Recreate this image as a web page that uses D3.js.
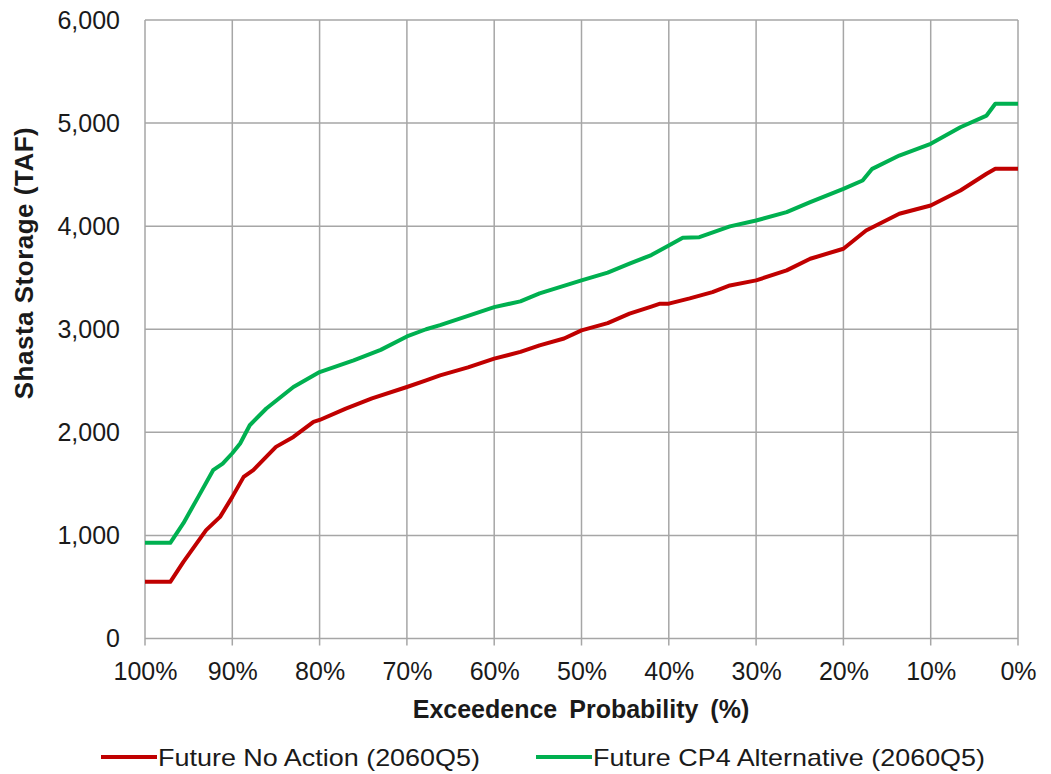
<!DOCTYPE html>
<html>
<head>
<meta charset="utf-8">
<script src="https://cdn.jsdelivr.net/npm/d3@7"></script>
<style>
  body { margin: 0; background: #fff; }
  text { font-family: "Liberation Sans", Arial, sans-serif; fill: #1a1a1a; }
</style>
</head>
<body>
<svg id="chart" width="1051" height="774"></svg>
<script>
// exceedence probability (%) and storage (TAF)
var noActionProb = [100, 97.1, 95.6, 93, 91.4, 90, 88.7, 87.6, 85, 83, 80.7, 80, 77, 74, 70, 67.8, 66.2, 63, 60, 57, 54.8, 52, 50, 47, 44.5, 42, 41, 40, 37.6, 35, 33, 30, 26.5, 23.8, 20, 17.4, 13.6, 10, 6.6, 3.6, 2.6, 0];
var noActionTaf = [550, 550, 744, 1051, 1180, 1374, 1568, 1633, 1859, 1955, 2101, 2120, 2230, 2330, 2440, 2505, 2553, 2630, 2715, 2780, 2844, 2910, 2989, 3060, 3151, 3220, 3248, 3248, 3299, 3360, 3425, 3474, 3571, 3684, 3781, 3958, 4120, 4200, 4346, 4508, 4556, 4556];

var cp4Prob = [100, 97.1, 95.6, 93.9, 92.2, 91.1, 90, 89.1, 88, 86.1, 83, 80, 76.1, 73, 70, 67.8, 66.2, 63, 60, 57, 54.8, 50, 47, 44.5, 42, 40, 38.4, 36.5, 33, 30, 26.5, 23.8, 20, 17.8, 16.7, 13.6, 10, 6.6, 3.6, 2.6, 0];
var cp4Taf = [928, 928, 1119, 1374, 1633, 1697, 1797, 1892, 2069, 2231, 2440, 2585, 2699, 2800, 2930, 3000, 3040, 3130, 3215, 3270, 3348, 3474, 3550, 3636, 3720, 3813, 3888, 3893, 3998, 4055, 4136, 4233, 4362, 4443, 4556, 4685, 4799, 4960, 5073, 5187, 5187];

var seriesNames = ["Future No Action (2060Q5)", "Future CP4 Alternative (2060Q5)"];
var seriesColors = ["#c00000", "#00b050"];
var xTicks = [100, 90, 80, 70, 60, 50, 40, 30, 20, 10, 0];
var yTicks = [0, 1000, 2000, 3000, 4000, 5000, 6000];

var svg = d3.select("#chart");
// plot box (note: don't call it "top", that's window.top)
var plotLeft = 145, plotRight = 1018, plotTop = 20, plotBottom = 638.5;

var x = d3.scaleLinear().domain([100, 0]).range([plotLeft, plotRight]);
var y = d3.scaleLinear().domain([0, 6000]).range([plotBottom, plotTop]);

// grid
svg.append("g").selectAll("line").data(yTicks).enter().append("line")
  .attr("x1", plotLeft).attr("x2", plotRight)
  .attr("y1", function(d) { return y(d); }).attr("y2", function(d) { return y(d); })
  .attr("stroke", "#a6a6a6").attr("stroke-width", 1.5);
svg.append("g").selectAll("line").data(xTicks).enter().append("line")
  .attr("x1", function(d) { return x(d); }).attr("x2", function(d) { return x(d); })
  .attr("y1", plotTop).attr("y2", plotBottom + 7)
  .attr("stroke", "#a6a6a6").attr("stroke-width", 1.5);

// tick labels
var yAxis = svg.append("g").attr("transform", "translate(" + plotLeft + ",0)")
  .call(d3.axisLeft(y).tickValues(yTicks).tickFormat(d3.format(",")).tickSize(0).tickPadding(25));
yAxis.select(".domain").remove();
yAxis.selectAll("text").style("font-size", "25px").style("font-family", "Liberation Sans, Arial, sans-serif").attr("fill", "#1a1a1a");

var xAxis = svg.append("g").attr("transform", "translate(0," + plotBottom + ")")
  .call(d3.axisBottom(x).tickValues(xTicks).tickFormat(function(d) { return d + "%"; }).tickSize(0).tickPadding(24));
xAxis.select(".domain").remove();
xAxis.selectAll("text").style("font-size", "25px").style("font-family", "Liberation Sans, Arial, sans-serif").attr("fill", "#1a1a1a");

// titles
svg.append("text")
  .attr("x", 581).attr("y", 718)
  .attr("text-anchor", "middle")
  .style("font-size", "25px").style("font-weight", "bold").style("word-spacing", "5px")
  .text("Exceedence Probability (%)");

svg.append("text")
  .attr("transform", "translate(33,263) rotate(-90)")
  .attr("text-anchor", "middle")
  .style("font-size", "26px").style("font-weight", "bold").style("letter-spacing", "0.5px")
  .text("Shasta Storage (TAF)");

// lines
var line = d3.line()
  .x(function(d) { return x(d[0]); })
  .y(function(d) { return y(d[1]); });

var series = [
  d3.zip(noActionProb, noActionTaf),
  d3.zip(cp4Prob, cp4Taf)
];

svg.append("g").selectAll("path").data(series).enter().append("path")
  .attr("d", line)
  .attr("fill", "none")
  .attr("stroke", function(d, i) { return seriesColors[i]; })
  .attr("stroke-width", 4)
  .attr("stroke-linejoin", "round");

// legend
var legendX = [101, 536];
var legendTextLen = [322, 392];
var leg = svg.append("g").selectAll("g").data(seriesNames).enter().append("g")
  .attr("transform", function(d, i) { return "translate(" + legendX[i] + ",757)"; });
leg.append("line")
  .attr("x1", 0).attr("x2", 56)
  .attr("stroke", function(d, i) { return seriesColors[i]; })
  .attr("stroke-width", 4);
leg.append("text")
  .attr("x", 57).attr("y", 9)
  .attr("textLength", function(d, i) { return legendTextLen[i]; })
  .attr("lengthAdjust", "spacingAndGlyphs")
  .style("font-size", "24px")
  .text(function(d) { return d; });
</script>
</body>
</html>
